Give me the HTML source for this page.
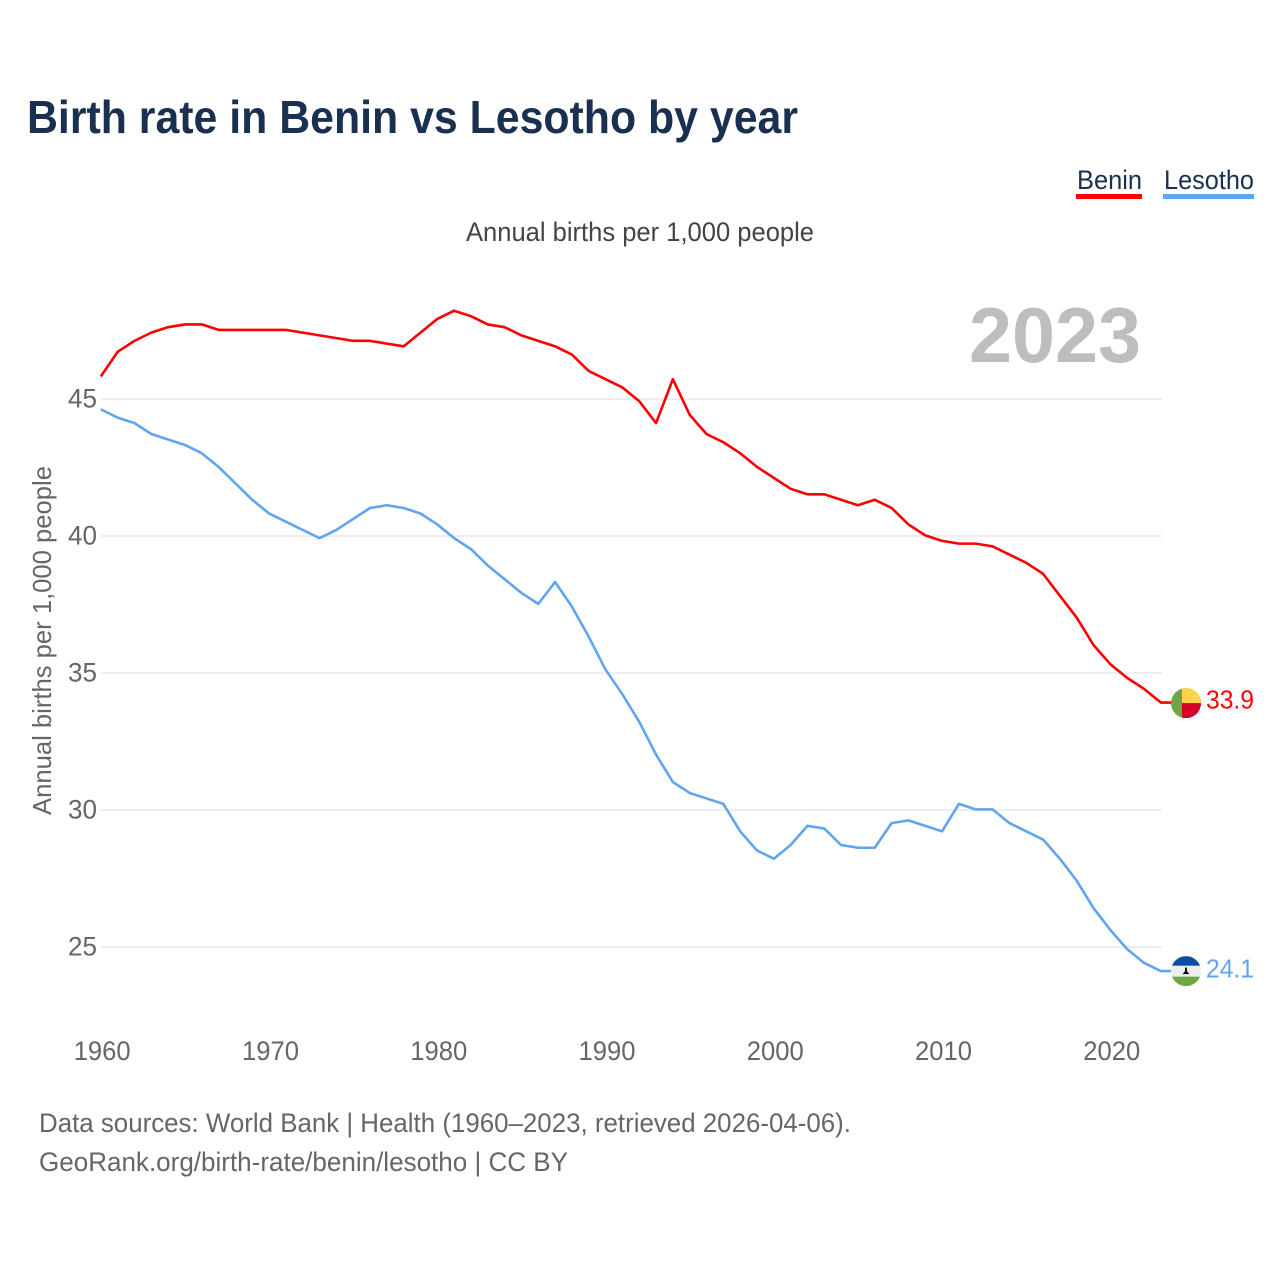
<!DOCTYPE html>
<html lang="en">
<head>
<meta charset="utf-8">
<title>Birth rate in Benin vs Lesotho by year</title>
<style>
html,body{margin:0;padding:0;background:#fff;}
svg{display:block;font-family:"Liberation Sans",sans-serif;}
</style>
</head>
<body>
<svg id="chart" xmlns="http://www.w3.org/2000/svg" width="1280" height="1280" viewBox="0 0 1280 1280">
  <rect width="1280" height="1280" fill="#fff"/>
  <text x="27" y="133" font-size="46" font-weight="700" fill="#1a3050" textLength="771" lengthAdjust="spacingAndGlyphs">Birth rate in Benin vs Lesotho by year</text>
  <g>
    <text x="1077" y="189" font-size="27" fill="#1a3050" textLength="65" lengthAdjust="spacingAndGlyphs">Benin</text>
    <rect x="1076" y="194" width="66" height="5" fill="#ff0000"/>
  </g>
  <g>
    <text x="1164" y="189" font-size="27" fill="#1a3050" textLength="90" lengthAdjust="spacingAndGlyphs">Lesotho</text>
    <rect x="1163" y="194" width="91" height="5" fill="#60a5ef"/>
  </g>
  <text x="466" y="241" font-size="27" fill="#444" textLength="348" lengthAdjust="spacingAndGlyphs">Annual births per 1,000 people</text>
  <text x="969" y="362" font-size="78" font-weight="700" fill="#bebebe" textLength="172" lengthAdjust="spacingAndGlyphs">2023</text>
  <text transform="translate(51,815) rotate(-90)" font-size="26" fill="#666" textLength="349" lengthAdjust="spacingAndGlyphs">Annual births per 1,000 people</text>
  <g id="grid"></g>
  <g id="yticks"></g>
  <g id="xticks"></g>
  <g id="series"></g>
  <g id="ends"></g>
  <text x="39" y="1132" font-size="27" fill="#666" textLength="812" lengthAdjust="spacingAndGlyphs">Data sources: World Bank | Health (1960–2023, retrieved 2026-04-06).</text>
  <text x="39" y="1171" font-size="27" fill="#666" textLength="529" lengthAdjust="spacingAndGlyphs">GeoRank.org/birth-rate/benin/lesotho | CC BY</text>
</svg>
<script>
const years = [1960,1961,1962,1963,1964,1965,1966,1967,1968,1969,1970,1971,1972,1973,1974,1975,1976,1977,1978,1979,1980,1981,1982,1983,1984,1985,1986,1987,1988,1989,1990,1991,1992,1993,1994,1995,1996,1997,1998,1999,2000,2001,2002,2003,2004,2005,2006,2007,2008,2009,2010,2011,2012,2013,2014,2015,2016,2017,2018,2019,2020,2021,2022,2023];
const benin = [45.8,46.7,47.1,47.4,47.6,47.7,47.7,47.5,47.5,47.5,47.5,47.5,47.4,47.3,47.2,47.1,47.1,47.0,46.9,47.4,47.9,48.2,48.0,47.7,47.6,47.3,47.1,46.9,46.6,46.0,45.7,45.4,44.9,44.1,45.7,44.4,43.7,43.4,43.0,42.5,42.1,41.7,41.5,41.5,41.3,41.1,41.3,41.0,40.4,40.0,39.8,39.7,39.7,39.6,39.3,39.0,38.6,37.8,37.0,36.0,35.3,34.8,34.4,33.9];
const lesotho = [44.6,44.3,44.1,43.7,43.5,43.3,43.0,42.5,41.9,41.3,40.8,40.5,40.2,39.9,40.2,40.6,41.0,41.1,41.0,40.8,40.4,39.9,39.5,38.9,38.4,37.9,37.5,38.3,37.4,36.3,35.1,34.2,33.2,32.0,31.0,30.6,30.4,30.2,29.2,28.5,28.2,28.7,29.4,29.3,28.7,28.6,28.6,29.5,29.6,29.4,29.2,30.2,30.0,30.0,29.5,29.2,28.9,28.2,27.4,26.4,25.6,24.9,24.4,24.1];
const yTickValues = [25,30,35,40,45];
const xTickValues = [1960,1970,1980,1990,2000,2010,2020];

const NS = 'http://www.w3.org/2000/svg';
const xScale = function (year) { return 100.8 + (year - 1960) * (1060 / 63); };
const yScale = function (value) { return 399 + (45 - value) * 27.4; };
const lineY = function (value) { return yScale(value) - 0.6; };
const gridLeft = xScale(1960);
const gridRight = 1162;

function make(tag, parent, attrs, text) {
  const el = document.createElementNS(NS, tag);
  for (const key in attrs) el.setAttribute(key, attrs[key]);
  if (text !== undefined) el.textContent = text;
  parent.appendChild(el);
  return el;
}

const grid = document.getElementById('grid');
const yticks = document.getElementById('yticks');
const xticks = document.getElementById('xticks');
const seriesGroup = document.getElementById('series');
const ends = document.getElementById('ends');

yTickValues.forEach(function (v) {
  const line = make('line', grid, {x1: gridLeft, x2: gridRight, y1: yScale(v), y2: yScale(v), stroke: '#e9e9e9', 'stroke-width': 1.4});
  
  
  const label = make('text', yticks, {x: 97, y: yScale(v) + 8.4, 'font-size': 27, fill: '#666', 'text-anchor': 'end', textLength: 29, lengthAdjust: 'spacingAndGlyphs'}, String(v));
  
  
});

xTickValues.forEach(function (y) {
  const label = make('text', xticks, {x: xScale(y) + 1.4, y: 1060, 'font-size': 27, fill: '#666', 'text-anchor': 'middle', textLength: 57, lengthAdjust: 'spacingAndGlyphs'}, String(y));
  
  
});

function linePath(values) {
  const points = values.map(function (v, i) {
    return (i ? 'L' : 'M') + xScale(years[i]).toFixed(2) + ' ' + lineY(v).toFixed(2);
  });
  const last = values[values.length - 1];
  points.push('L' + (xScale(years[years.length - 1]) + 14).toFixed(2) + ' ' + lineY(last).toFixed(2));
  return points.join(' ');
}

const lesothoLine = make('path', seriesGroup, {d: linePath(lesotho), fill: 'none', stroke: '#60a5ef', 'stroke-width': 2.6, 'stroke-linejoin': 'round'});


const beninLine = make('path', seriesGroup, {d: linePath(benin), fill: 'none', stroke: '#ff0000', 'stroke-width': 2.6, 'stroke-linejoin': 'round'});



const flagX = xScale(years[years.length - 1]) + 25.2;

function clipFor(id, cy) {
  const defs = make('defs', ends, {});
  const clip = make('clipPath', defs, {id: id});
  make('circle', clip, {cx: flagX, cy: cy, r: 15});
}

const beninLast = benin[benin.length - 1];
const by = yScale(beninLast);
clipFor('clip-benin', by);
const beninFlag = make('g', ends, {'clip-path': 'url(#clip-benin)'});


make('rect', beninFlag, {x: flagX - 15, y: by - 15, width: 30, height: 30, fill: '#6fa544'});
make('rect', beninFlag, {x: flagX - 4, y: by - 15, width: 19, height: 15, fill: '#fcd449'});
make('rect', beninFlag, {x: flagX - 4, y: by, width: 19, height: 15, fill: '#d5002b'});
const beninValue = make('text', ends, {x: 1254, y: by + 5.5, 'font-size': 26, fill: '#ff0000', 'text-anchor': 'end', textLength: 48, lengthAdjust: 'spacingAndGlyphs'}, beninLast.toFixed(1));



const lesothoLast = lesotho[lesotho.length - 1];
const ly = yScale(lesothoLast) - 0.5;
clipFor('clip-lesotho', ly);
const lesothoFlag = make('g', ends, {'clip-path': 'url(#clip-lesotho)'});


make('rect', lesothoFlag, {x: flagX - 15, y: ly - 15, width: 30, height: 30, fill: '#eeeeee'});
make('rect', lesothoFlag, {x: flagX - 15, y: ly - 15, width: 30, height: 9.5, fill: '#0b4ea2'});
make('rect', lesothoFlag, {x: flagX - 15, y: ly + 5.5, width: 30, height: 9.5, fill: '#6fa544'});
make('path', lesothoFlag, {d: 'M' + (flagX - 3.5) + ' ' + (ly + 3) + 'h7l-2.5 -3v-3.5h-2v3.5z', fill: '#111'});
const lesothoValue = make('text', ends, {x: 1254, y: ly + 6.5, 'font-size': 26, fill: '#60a5ef', 'text-anchor': 'end', textLength: 48, lengthAdjust: 'spacingAndGlyphs'}, lesothoLast.toFixed(1));


</script>
</body>
</html>
